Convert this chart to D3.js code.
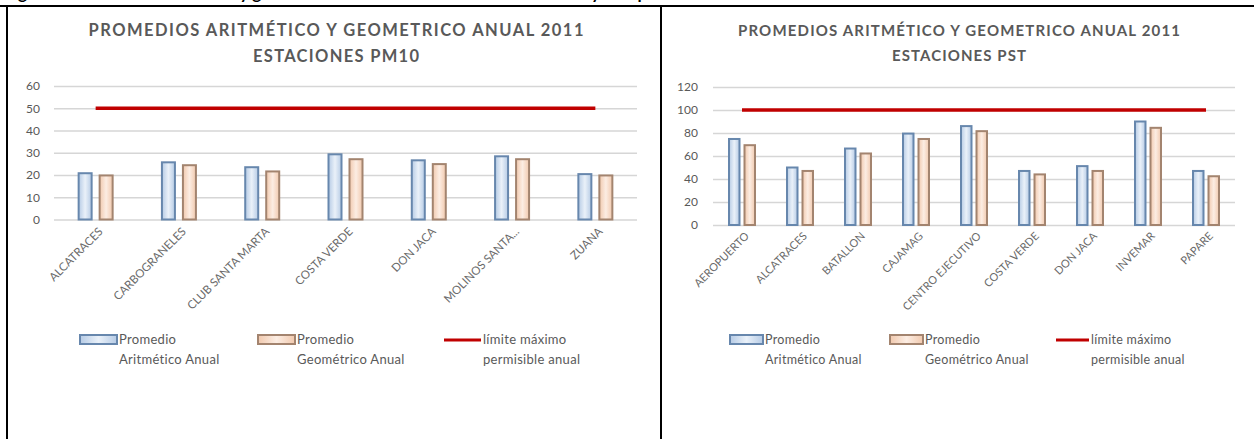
<!DOCTYPE html>
<html>
<head>
<meta charset="utf-8">
<script src="https://cdn.jsdelivr.net/npm/d3@7"></script>
<style>
  body { margin: 0; background: #fff; }
  svg { display: block; font-family: Lato, "Open Sans", sans-serif; }
</style>
</head>
<body>
<svg id="chart" width="1254" height="439"></svg>
<script>
// PM10 stations (left chart)
const pm10Stations = ["ALCATRACES", "CARBOGRANELES", "CLUB SANTA MARTA", "COSTA VERDE", "DON JACA", "MOLINOS SANTA...", "ZUANA"];
const pm10Arit = [20.8, 25.7, 23.5, 29.3, 26.6, 28.4, 20.4];
const pm10Geo = [19.8, 24.4, 21.6, 27.1, 24.9, 27.1, 19.8];
const pm10Limit = 50;
const pm10Ticks = [0, 10, 20, 30, 40, 50, 60];

// PST stations (right chart)
const pstStations = ["AEROPUERTO", "ALCATRACES", "BATALLON", "CAJAMAG", "CENTRO EJECUTIVO", "COSTA VERDE", "DON JACA", "INVEMAR", "PAPARE"];
const pstArit = [74.8, 50.0, 66.5, 79.5, 86.0, 47.0, 51.2, 90.0, 47.0];
const pstGeo = [69.4, 47.0, 62.2, 74.8, 81.6, 44.0, 47.0, 84.5, 42.4];
const pstLimit = 100;
const pstTicks = [0, 20, 40, 60, 80, 100, 120];

const seriesNames = [
  ["Promedio", "Aritmético Anual"],
  ["Promedio", "Geométrico Anual"],
  ["límite máximo", "permisible anual"]
];
const titleLine1 = "PROMEDIOS ARITMÉTICO Y GEOMETRICO ANUAL 2011";
const caption = "Figura 9. Promedios aritmético y geométrico anual de las estaciones de PM10 y PST para el año 2011";

const svg = d3.select("#chart");
const defs = svg.append("defs");

function addGrad(id, edge, mid) {
  const g = defs.append("linearGradient").attr("id", id)
    .attr("x1", "0").attr("x2", "1").attr("y1", "0").attr("y2", "0");
  g.append("stop").attr("offset", "0").attr("stop-color", edge);
  g.append("stop").attr("offset", "0.5").attr("stop-color", mid);
  g.append("stop").attr("offset", "1").attr("stop-color", edge);
}
addGrad("gBlue", "#b6cbe5", "#eaf1f9");
addGrad("gOrange", "#f1c9ae", "#fcede3");

const barStyles = [
  { fill: "url(#gBlue)", stroke: "#6787ad" },
  { fill: "url(#gOrange)", stroke: "#a3846f" }
];
const limitColor = "#c00000";
const textColor = "#595959";

// cut-off caption above the frames, only descenders show
svg.append("text")
  .attr("x", 4).attr("y", -1)
  .attr("fill", "#000")
  .style("font-size", "17px")
  .style("font-weight", "bold")
  .text(caption);

// frame lines
svg.append("rect").attr("x", 0).attr("y", 5).attr("width", 1254).attr("height", 2).attr("fill", "#000");
svg.append("rect").attr("x", 6).attr("y", 5).attr("width", 2).attr("height", 434).attr("fill", "#000");
svg.append("rect").attr("x", 660).attr("y", 5).attr("width", 2).attr("height", 434).attr("fill", "#000");

function drawChart(cfg) {
  const g = svg.append("g");

  // title
  const t = g.append("text")
    .attr("text-anchor", "middle")
    .attr("fill", textColor)
    .style("font-weight", "bold")
    .style("font-size", cfg.titleSize + "px");
  t.append("tspan").attr("x", cfg.titleX).attr("y", cfg.titleY)
    .attr("textLength", cfg.titleW).attr("lengthAdjust", "spacing")
    .text(titleLine1);
  t.append("tspan").attr("x", cfg.titleX).attr("y", cfg.titleY + cfg.titleGap)
    .attr("textLength", cfg.subW).attr("lengthAdjust", "spacing")
    .text(cfg.subtitle);

  const x = d3.scaleBand().domain(cfg.stations).range([cfg.left, cfg.right]);
  const y = d3.scaleLinear().domain([0, d3.max(cfg.ticks)]).range([cfg.bottom, cfg.top]);

  // gridlines + y labels
  const gy = g.append("g")
    .attr("transform", `translate(${cfg.left},0)`)
    .call(d3.axisLeft(y).tickValues(cfg.ticks).tickSize(-(cfg.right - cfg.left)).tickPadding(cfg.tickPad));
  gy.select(".domain").remove();
  gy.selectAll("line").attr("stroke", "#d6d6d6").attr("stroke-width", 1.5);
  gy.selectAll("text")
    .attr("fill", textColor)
    .style("font-size", cfg.fontSize + "px")
    .style("font-family", "Lato, sans-serif");

  // bars
  const bw = cfg.barW, gap = cfg.barGap;
  [cfg.arit, cfg.geo].forEach((vals, si) => {
    g.append("g").selectAll("rect")
      .data(vals)
      .join("rect")
      .attr("x", (d, i) => x(cfg.stations[i]) + x.bandwidth() / 2 - gap / 2 - bw + si * (bw + gap))
      .attr("y", d => y(d))
      .attr("width", bw)
      .attr("height", d => y(0) - y(d))
      .attr("fill", barStyles[si].fill)
      .attr("stroke", barStyles[si].stroke)
      .attr("stroke-width", 2);
  });

  // limit line
  const line = d3.line()
    .x(d => x(d) + x.bandwidth() / 2)
    .y(() => y(cfg.limit));
  g.append("path")
    .attr("d", line(cfg.stations))
    .attr("fill", "none")
    .attr("stroke", limitColor)
    .attr("stroke-width", 3.5);

  // x labels
  const gx = g.append("g")
    .attr("transform", `translate(0,${cfg.bottom})`)
    .call(d3.axisBottom(x).tickSize(0).tickPadding(0));
  gx.select(".domain").remove();
  gx.selectAll("text")
    .attr("fill", "#6a6a6a")
    .style("font-size", cfg.labelSize + "px")
    .style("font-family", "Lato, sans-serif")
    .attr("text-anchor", "end")
    .attr("dy", "0.35em")
    .attr("transform", `translate(5,${cfg.labelOff}) rotate(-45)`);

  // legend
  const lg = g.append("g")
    .style("font-size", cfg.legendSize + "px")
    .style("letter-spacing", "0.3px")
    .attr("fill", textColor);
  cfg.legendX.forEach((lx, i) => {
    if (i < 2) {
      lg.append("rect")
        .attr("x", lx).attr("y", cfg.legendY - 5)
        .attr("width", cfg.swatchW).attr("height", 9)
        .attr("fill", barStyles[i].fill)
        .attr("stroke", barStyles[i].stroke)
        .attr("stroke-width", 2);
    } else {
      lg.append("line")
        .attr("x1", lx).attr("x2", lx + cfg.swatchW)
        .attr("y1", cfg.legendY).attr("y2", cfg.legendY)
        .attr("stroke", limitColor).attr("stroke-width", 3);
    }
    const tx = lg.append("text").attr("x", lx + cfg.swatchW + 2).attr("y", cfg.legendY + 4);
    tx.append("tspan").text(seriesNames[i][0]);
    tx.append("tspan").attr("x", lx + cfg.swatchW + 2).attr("dy", cfg.legendLine).text(seriesNames[i][1]);
  });
}

drawChart({
  stations: pm10Stations, arit: pm10Arit, geo: pm10Geo, limit: pm10Limit, ticks: pm10Ticks,
  subtitle: "ESTACIONES PM10",
  titleX: 336, titleY: 36, titleW: 495, subW: 166, titleGap: 26, titleSize: 16.5,
  left: 54, right: 637, top: 86, bottom: 219.5,
  tickPad: 14, fontSize: 12, labelSize: 11.5, labelOff: 10,
  barW: 13, barGap: 8,
  legendX: [80, 258, 444], legendY: 340, legendLine: 20, legendSize: 13, swatchW: 37
});

drawChart({
  stations: pstStations, arit: pstArit, geo: pstGeo, limit: pstLimit, ticks: pstTicks,
  subtitle: "ESTACIONES PST",
  titleX: 959, titleY: 36, titleW: 442, subW: 134, titleGap: 25, titleSize: 15,
  left: 713, right: 1235, top: 87, bottom: 225,
  tickPad: 15, fontSize: 12, labelSize: 11, labelOff: 9,
  barW: 10.5, barGap: 5,
  legendX: [730, 890, 1056], legendY: 340, legendLine: 20, legendSize: 12.5, swatchW: 33
});
</script>
</body>
</html>
